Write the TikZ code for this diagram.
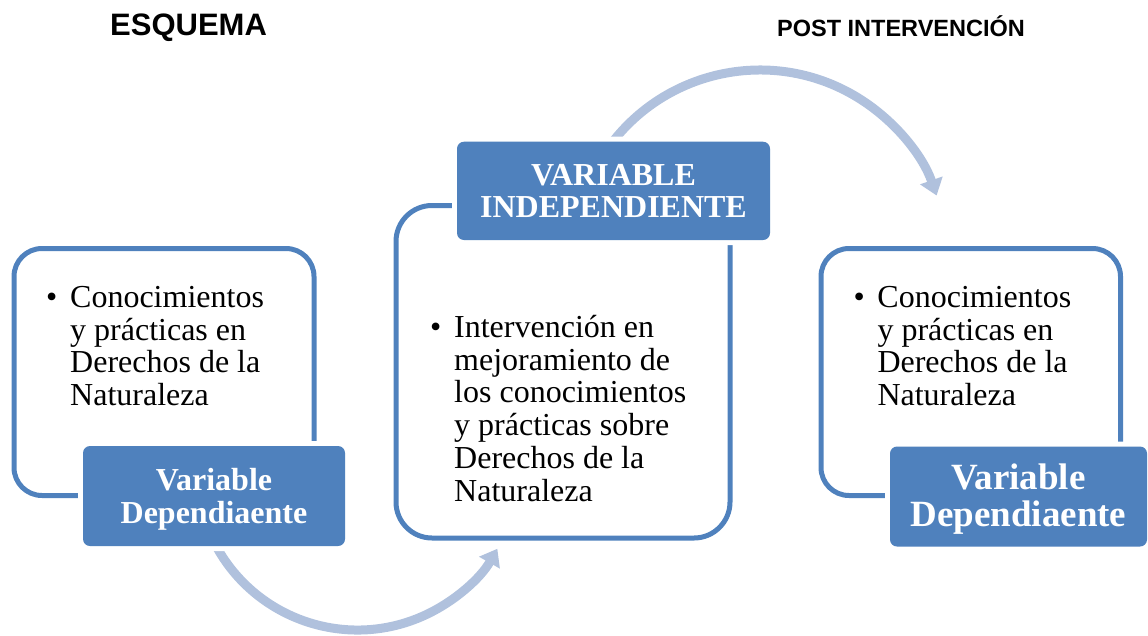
\documentclass[tikz,border=0pt]{standalone}
\usepackage{fontspec}
\setmainfont{Liberation Serif}
\newfontfamily\hdrfont{Liberation Sans}
\usetikzlibrary{arrows.meta}
\definecolor{vblue}{RGB}{79,129,189}
\definecolor{arrblue}{RGB}{176,193,221}
\newenvironment{bulletlist}{\begin{tabular}[t]{@{}p{24pt}@{}l@{}}}{\end{tabular}}
\begin{document}
\begin{tikzpicture}[x=1pt,y=-1pt,
  outlinebox/.style={draw=vblue, line width=5pt, inner sep=0pt, outer sep=0pt},
  labelbox/.style={fill=vblue, rounded corners=7pt, inner sep=0pt, outer sep=0pt,
     preaction={draw=white, line width=10pt, rounded corners=7pt},
     text=white, align=center},
  bodytext/.style={anchor=base west, inner sep=0pt,
     font=\fontsize{32}{32.8}\selectfont},
  arr/.style={draw=arrblue, line width=9pt, -{Triangle[width=23pt,length=16pt]}},
  hdr/.style={anchor=base west, inner sep=0pt, font=\hdrfont\bfseries}
]
\useasboundingbox (0,0) rectangle (1148,635);
% arcs centres
\coordinate (c1) at (357.5,469);
\coordinate (c2) at (760,257);
\draw[arr] ([shift={(155:161)}]c1) arc[start angle=155, end angle=29.7, radius=161];
\draw[arr] ([shift={(-147:187)}]c2) arc[start angle=-147, end angle=-19.2, radius=187];
% outline boxes
\node[outlinebox, rounded corners=28pt, minimum width=300pt, minimum height=247pt] (lbox) at (164,372) {};
\node[outlinebox, rounded corners=36pt, minimum width=334pt, minimum height=332.5pt] (mbox) at (563,371.75) {};
\node[outlinebox, rounded corners=28pt, minimum width=299.5pt, minimum height=247pt] (rbox) at (970.75,372) {};
% label boxes
\node[labelbox, minimum width=262pt, minimum height=100pt, font=\bfseries\fontsize{32}{33}\selectfont] (llab) at (214,496) {\rule{0pt}{28pt}Variable\\Dependiaente};
\node[labelbox, minimum width=313pt, minimum height=98.3pt, font=\bfseries\fontsize{32}{32.7}\selectfont] (mlab) at (613.5,190.85) {VARIABLE\\INDEPENDIENTE};
\node[labelbox, minimum width=257pt, minimum height=100pt, font=\bfseries\fontsize{37}{36.7}\selectfont] (rlab) at (1018.5,496.5) {\rule{0pt}{31pt}Variable\\Dependiaente};
% body texts
\node[bodytext] (ltxt) at (46,307.3) {\begin{bulletlist}\textbullet & Conocimientos\\ & y prácticas en\\ & Derechos de la\\ & Naturaleza\end{bulletlist}};
\node[bodytext] (mtxt) at (430,337.3) {\begin{bulletlist}\textbullet & Intervención en\\ & mejoramiento de\\ & los conocimientos\\ & y prácticas sobre\\ & Derechos de la\\ & Naturaleza\end{bulletlist}};
\node[bodytext] (rtxt) at (853.3,307.3) {\begin{bulletlist}\textbullet & Conocimientos\\ & y prácticas en\\ & Derechos de la\\ & Naturaleza\end{bulletlist}};
% headers
\node[hdr, font=\hdrfont\bfseries\fontsize{31}{31}\selectfont] (h1) at (110,35) {ESQUEMA};
\node[hdr, font=\hdrfont\bfseries\fontsize{23.5}{23.5}\selectfont] (h2) at (777,36) {POST INTERVENCIÓN};
\end{tikzpicture}
\end{document}
